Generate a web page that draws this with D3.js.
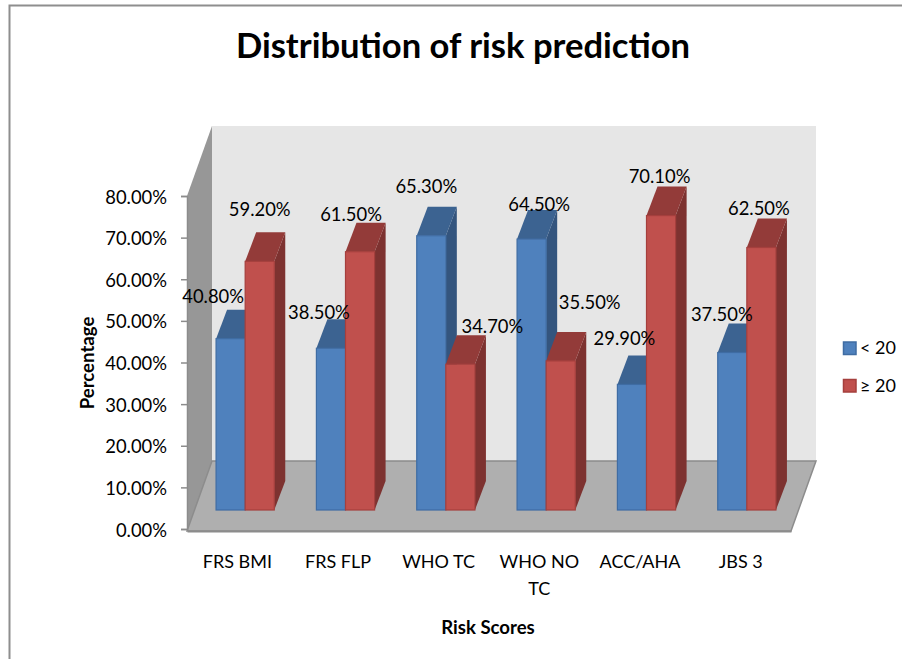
<!DOCTYPE html>
<html>
<head>
<meta charset="utf-8">
<script src="https://cdn.jsdelivr.net/npm/d3@7/dist/d3.min.js"></script>
<style>
  html, body { margin: 0; padding: 0; background: #fff; }
  svg { display: block; }
  text { font-family: Lato, "Open Sans", sans-serif; fill: #000; }
</style>
</head>
<body>
<svg id="chart" width="902" height="659"></svg>
<script>
// Risk score categories and the share of patients in each prediction band
const categories = ["FRS BMI", "FRS FLP", "WHO TC", "WHO NO TC", "ACC/AHA", "JBS 3"];
const seriesNames = ["< 20", "≥ 20"];
const lowRisk = [40.8, 38.5, 65.3, 64.5, 29.9, 37.5];
const highRisk = [59.2, 61.5, 34.7, 35.5, 70.1, 62.5];
const yTicks = [0, 10, 20, 30, 40, 50, 60, 70, 80];

// Hand placement of data labels relative to each bar's top centre
const lowLabelShift = [[-17.5, -41.6], [-12, -35.3], [-5, -48.7], [7.5, -34.1], [-7.5, -45.4], [-10.5, -37.5]];
const highLabelShift = [[0, -51.4], [-9, -36.7], [32, -37.3], [29, -57.9], [-1.5, -38.6], [-2.5, -38.5]];

const svg = d3.select("#chart");

// Chart frame, open at the right and bottom edges
svg.append("path")
  .attr("d", "M902,5.5H9.5V659")
  .attr("fill", "none").attr("stroke", "#8e8e8e").attr("stroke-width", 2);

svg.append("text").attr("x", 463).attr("y", 58)
  .attr("text-anchor", "middle").attr("font-size", 34.6).attr("font-weight", 700)
  .text("Distribution of risk prediction");

// 3D box: oblique projection offsets
const depthX = 11, depthY = -29;          // bar depth
const box = { left: 187, right: 791, top: 196, bottom: 531, backDx: 25, backDy: -70 };
const poly = pts => "M" + pts.map(p => p.join(",")).join("L") + "Z";

// Back wall
svg.append("path").attr("fill", "#e6e6e6").attr("d", poly([
  [box.left + box.backDx, box.top + box.backDy + 0],
  [box.right + box.backDx, box.top + box.backDy + 0],
  [box.right + box.backDx, box.bottom + box.backDy],
  [box.left + box.backDx, box.bottom + box.backDy]
]));
// Side wall
svg.append("path").attr("fill", "#979797").attr("d", poly([
  [box.left, box.top],
  [box.left + box.backDx, box.top + box.backDy],
  [box.left + box.backDx, box.bottom + box.backDy],
  [box.left, box.bottom]
]));
// Floor
svg.append("path").attr("fill", "#afafaf").attr("stroke", "#8c8c8c").attr("stroke-width", 1.5)
  .attr("d", poly([
    [box.left, box.bottom],
    [box.left + box.backDx, box.bottom + box.backDy],
    [box.right + box.backDx, box.bottom + box.backDy],
    [box.right, box.bottom]
  ]));

// Axes
const yAxisScale = d3.scaleLinear().domain([0, 80]).range([529, 196]);
const xAxisScale = d3.scaleBand().domain(categories).range([box.left, box.right]);

const yAxis = svg.append("g").attr("transform", `translate(${box.left},0)`)
  .call(d3.axisLeft(yAxisScale).tickValues(yTicks).tickSize(6).tickPadding(14)
    .tickFormat(d => d.toFixed(2) + "%"));
yAxis.selectAll("line, path").attr("stroke", "#8c8c8c").attr("stroke-width", 1.5);
yAxis.selectAll("text").attr("font-size", 18.4).attr("font-family", "Lato, sans-serif").attr("dy", "0.38em");

const xAxis = svg.append("g").attr("transform", `translate(0,${box.bottom})`)
  .call(d3.axisBottom(xAxisScale).tickSize(0).tickPadding(0));
xAxis.select("path").attr("stroke", "#8c8c8c").attr("stroke-width", 2);
xAxis.selectAll("text").attr("font-size", 18).attr("font-family", "Lato, sans-serif")
  .each(function (d) {
    // Long names wrap onto a second line
    const words = d.split(" ");
    const lines = words.length > 2 ? [words.slice(0, 2).join(" "), words.slice(2).join(" ")] : [d];
    const t = d3.select(this).text(null).attr("y", 0).attr("dy", null);
    lines.forEach((line, i) => t.append("tspan").attr("x", 0).attr("y", 37 + i * 27).text(line));
  });

svg.append("text")
  .attr("transform", "translate(94,363) rotate(-90)")
  .attr("text-anchor", "middle").attr("font-size", 18.6).attr("font-weight", 700)
  .text("Percentage");
svg.append("text").attr("x", 488).attr("y", 634)
  .attr("text-anchor", "middle").attr("font-size", 18.6).attr("font-weight", 700)
  .text("Risk Scores");

// Bars sit on the floor, set in from the front edge
const yBar = d3.scaleLinear().domain([0, 80]).range([510, 174]);
const xGroup = d3.scaleBand().domain(categories).range([195, 797]).paddingInner(0.42).paddingOuter(0.21);
const xSeries = d3.scaleBand().domain(seriesNames).range([0, xGroup.bandwidth()]);

const palettes = [
  { front: "#4f81bd", top: "#3c6391", side: "#34557e", line: "#3f6ca3" },
  { front: "#c0504d", top: "#933b39", side: "#7d3230", line: "#a53f3d" }
];
const seriesValues = [lowRisk, highRisk];
const labelShifts = [lowLabelShift, highLabelShift];

const marks = [];
categories.forEach((c, i) => seriesNames.forEach((s, k) => marks.push({
  cat: c, series: s, k, value: seriesValues[k][i], shift: labelShifts[k][i]
})));

const bars = svg.append("g").selectAll("g").data(marks).join("g");
const geom = d => ({
  x0: xGroup(d.cat) + xSeries(d.series),
  x1: xGroup(d.cat) + xSeries(d.series) + xSeries.bandwidth(),
  y0: yBar(d.value),
  y1: yBar(0)
});

bars.append("path")
  .attr("fill", d => palettes[d.k].side)
  .attr("d", d => {
    const g = geom(d);
    return poly([[g.x1, g.y0], [g.x1 + depthX, g.y0 + depthY], [g.x1 + depthX, g.y1 + depthY], [g.x1, g.y1]]);
  });
bars.append("path")
  .attr("fill", d => palettes[d.k].top)
  .attr("d", d => {
    const g = geom(d);
    return poly([[g.x0, g.y0], [g.x0 + depthX, g.y0 + depthY], [g.x1 + depthX, g.y0 + depthY], [g.x1, g.y0]]);
  });
bars.append("rect")
  .attr("x", d => geom(d).x0)
  .attr("y", d => geom(d).y0)
  .attr("width", xSeries.bandwidth())
  .attr("height", d => geom(d).y1 - geom(d).y0)
  .attr("fill", d => palettes[d.k].front)
  .attr("stroke", d => palettes[d.k].line)
  .attr("stroke-width", 1.2);

// Data labels
svg.append("g").selectAll("text").data(marks).join("text")
  .attr("x", d => (geom(d).x0 + geom(d).x1) / 2 + d.shift[0])
  .attr("y", d => geom(d).y0 + d.shift[1])
  .attr("dy", "0.35em")
  .attr("text-anchor", "middle")
  .attr("font-size", 18.4)
  .text(d => d.value.toFixed(2) + "%");

// Legend
const legendY = d3.scalePoint().domain(seriesNames).range([348, 385.5]);
const legend = svg.append("g").selectAll("g").data(seriesNames).join("g")
  .attr("transform", d => `translate(843,${legendY(d)})`);
legend.append("rect")
  .attr("x", 0.5).attr("y", -6).attr("width", 12.5).attr("height", 12.5)
  .attr("fill", (d, i) => palettes[i].front)
  .attr("stroke", (d, i) => palettes[i].line).attr("stroke-width", 1.5);
legend.append("text")
  .attr("x", 17).attr("dy", "0.35em").attr("font-size", 18)
  .text(d => d);
</script>
</body>
</html>
